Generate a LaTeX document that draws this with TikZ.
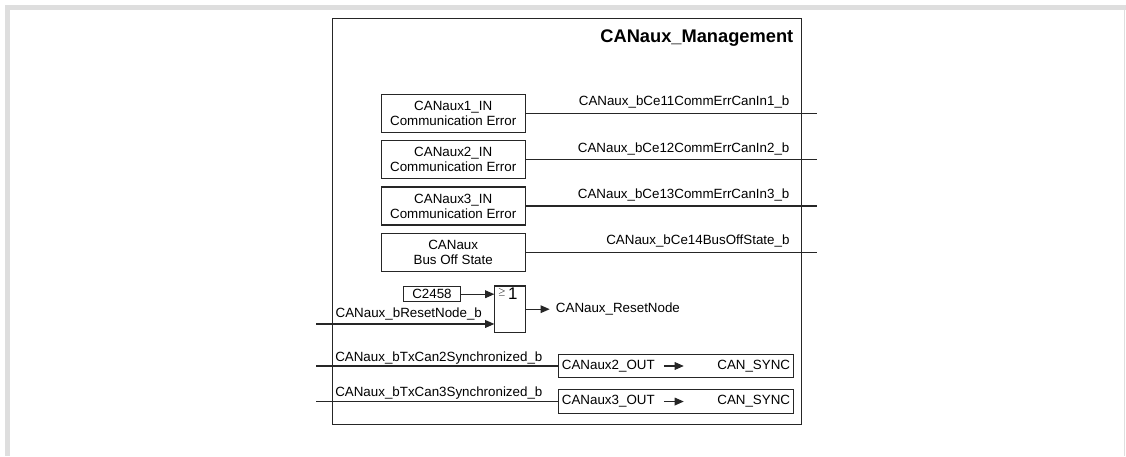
\documentclass[tikz,border=0pt]{standalone}
\usepackage{fontspec}
\setmainfont{Liberation Sans}
\usetikzlibrary{arrows.meta, positioning, calc}

\begin{document}
\begin{tikzpicture}[
    font=\fontsize{9.5}{10.6}\selectfont,
    >={Triangle[length=6.5pt,width=5.5pt]},
    node distance=0.18cm and 0.5cm,
    % Base styles for blocks and wires
    block/.style={rectangle, draw=black!85, line width=0.8pt, align=center, inner sep=1pt},
    errbox/.style={block, minimum width=3.6cm, minimum height=0.95cm},
    syncbox/.style={block, minimum width=5.87cm, minimum height=0.58cm},
    signal/.style={inner sep=0pt, anchor=base west},
    wire/.style={line width=0.8pt, draw=black!85}
]

% --- Page frame ---
\useasboundingbox (0,0) rectangle (28.15,-11.4);
\fill[black!13] (0.125,-0.125) rectangle (28.15,-0.25);
\fill[black!13] (0.125,-0.125) rectangle (0.25,-11.4);
\draw[black!13, line width=0.6pt] (28.1,-0.25) -- (28.1,-11.4);

% --- Nodes ---
\node [block, minimum width=11.73cm, minimum height=10.15cm] (mgmt) at (14.175,-5.535) {};
\node [font=\fontsize{13}{13}\selectfont\bfseries, anchor=base east, inner sep=0pt] (title) at (19.84,-1.05) {CANaux\_Management};

\node [errbox] (err1) at (11.33,-2.833) {CANaux1\_IN\\Communication Error};
\node [errbox, below=of err1] (err2) {CANaux2\_IN\\Communication Error};
\node [errbox, below=of err2] (err3) {CANaux3\_IN\\Communication Error};
\node [errbox, below=of err3] (busoff) {CANaux\\Bus Off State};

% left and right ends of the wires
\coordinate (outx) at (20.425,0);
\coordinate (inx) at (7.9,0);

\node [block, minimum width=0.755cm, minimum height=1.16cm] (orgate) at (12.75,-7.73) {};
\node [anchor=north west, inner sep=0pt] (orsym) at ([xshift=0.08cm, yshift=-0.06cm]orgate.north west) {\raisebox{0.8ex}{\fontsize{6.5}{6.5}\selectfont$\geq$}\,\fontsize{12}{12}\selectfont 1};
\node [block, minimum width=1.42cm, minimum height=0.375cm, inner sep=0pt] (param) at (10.8,-7.355) {C2458};

\coordinate (rstpin) at ([yshift=0.225cm]orgate.south west);
\coordinate (rstsrc) at (inx |- rstpin);
\coordinate (rstout) at ([xshift=0.6cm]orgate.east);
\node [signal] (rstlbl) at ([xshift=0.485cm, yshift=0.15cm]rstsrc) {CANaux\_bResetNode\_b};
\node [right=0.15cm of rstout, inner sep=0pt] (rstnode) {CANaux\_ResetNode};

\node [syncbox] (sync2) at (16.9,-9.15) {};
\node [syncbox, below=0.28cm of sync2] (sync3) {};
\node [anchor=west, inner sep=0pt] (sync2src) at ([xshift=0.09cm]sync2.west) {CANaux2\_OUT};
\node [anchor=east, inner sep=0pt] (sync2dst) at ([xshift=-0.09cm]sync2.east) {CAN\_SYNC};
\node [anchor=west, inner sep=0pt] (sync3src) at ([xshift=0.09cm]sync3.west) {CANaux3\_OUT};
\node [anchor=east, inner sep=0pt] (sync3dst) at ([xshift=-0.09cm]sync3.east) {CAN\_SYNC};

\coordinate (sync2in) at (inx |- sync2.west);
\coordinate (sync3in) at (inx |- sync3.west);
\node [signal] (sync2lbl) at ([xshift=0.475cm, yshift=0.12cm]sync2in) {CANaux\_bTxCan2Synchronized\_b};
\node [signal] (sync3lbl) at ([xshift=0.475cm, yshift=0.12cm]sync3in) {CANaux\_bTxCan3Synchronized\_b};

% --- Wires ---
\draw [wire] (err1.east) -- (err1.east -| outx) node[anchor=base east, xshift=-0.675cm, yshift=0.19cm, inner sep=0pt] {CANaux\_bCe11CommErrCanIn1\_b};
\draw [wire] (err2.east) -- (err2.east -| outx) node[anchor=base east, xshift=-0.675cm, yshift=0.19cm, inner sep=0pt] {CANaux\_bCe12CommErrCanIn2\_b};
\draw [wire] (err3.east) -- (err3.east -| outx) node[anchor=base east, xshift=-0.675cm, yshift=0.19cm, inner sep=0pt] {CANaux\_bCe13CommErrCanIn3\_b};
\draw [wire] (busoff.east) -- (busoff.east -| outx) node[anchor=base east, xshift=-0.675cm, yshift=0.19cm, inner sep=0pt] {CANaux\_bCe14BusOffState\_b};

\draw [wire, ->] (param.east) -- (param.east -| orgate.west);
\draw [wire, ->] (rstsrc) -- (rstpin);
\draw [wire, ->] (orgate.east) -- (rstout);

\draw [wire] (sync2in) -- (sync2.west);
\draw [wire] (sync3in) -- (sync3.west);
\draw [wire, ->] ([xshift=0.22cm]sync2src.east) -- ++(0.5,0);
\draw [wire, ->] ([xshift=0.22cm]sync3src.east) -- ++(0.5,0);

\end{tikzpicture}
\end{document}
